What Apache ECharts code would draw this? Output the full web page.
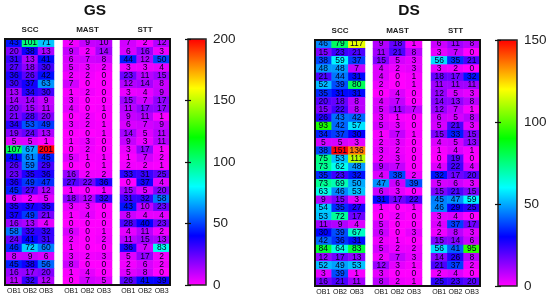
<!DOCTYPE html>
<html><head><meta charset="utf-8">
<script src="https://cdn.jsdelivr.net/npm/echarts@6/dist/echarts.min.js"></script>
<style>html,body{margin:0;background:#fff}#c{width:550px;height:300px}</style></head>
<body><div id="c"></div>
<script>
const observers = ['OB1','OB2','OB3'];
const gsScc = [[43,101,71],[20,38,13],[31,13,41],[27,18,30],[36,26,42],[30,37,63],[13,34,30],[14,14,9],[20,15,11],[21,28,20],[34,53,49],[19,24,13],[5,5,1],[107,67,201],[41,61,45],[26,59,29],[23,35,36],[36,49,47],[45,27,12],[6,2,5],[35,37,35],[37,49,21],[16,13,4],[58,32,32],[24,41,31],[46,72,60],[8,9,6],[45,38,56],[16,17,20],[11,32,12]];
const gsMast = [[2,9,10],[9,2,14],[6,7,8],[5,3,2],[2,2,0],[7,0,0],[1,2,0],[3,0,0],[4,0,1],[0,2,0],[3,2,1],[0,0,1],[1,3,0],[0,2,0],[5,1,1],[0,0,1],[16,2,2],[27,22,36],[1,0,1],[18,12,32],[3,3,0],[1,4,0],[0,0,0],[6,0,1],[2,0,2],[1,0,0],[3,2,3],[8,0,0],[1,4,0],[0,7,5]];
const gsStt = [[7,2,12],[6,16,3],[44,12,50],[3,3,4],[23,11,15],[12,14,8],[3,4,9],[15,7,17],[11,17,17],[9,11,1],[6,7,9],[14,5,11],[9,3,11],[3,17,1],[1,7,2],[2,2,1],[33,31,25],[0,37,4],[15,5,20],[31,32,58],[43,10,23],[8,4,4],[28,40,23],[4,11,2],[11,15,13],[36,7,83],[5,17,2],[2,6,2],[5,8,0],[26,41,39]];
const dsScc = [[46,79,117],[15,23,21],[38,59,37],[48,48,7],[21,44,31],[52,39,80],[35,31,31],[20,18,8],[15,22,8],[26,43,42],[93,42,57],[34,37,30],[5,5,3],[38,151,136],[75,53,111],[73,62,48],[35,23,32],[73,69,50],[63,46,53],[9,15,3],[54,35,27],[53,72,17],[11,9,4],[30,39,67],[42,36,31],[84,64,83],[12,17,13],[52,49,53],[3,39,1],[16,21,11]];
const dsMast = [[9,18,1],[11,21,8],[15,5,3],[4,2,3],[4,0,1],[2,0,1],[0,4,0],[4,7,0],[5,11,7],[3,1,0],[5,3,0],[1,7,1],[2,3,0],[3,2,0],[2,3,0],[9,7,0],[4,38,2],[47,6,39],[6,3,0],[31,17,22],[1,0,1],[0,2,0],[5,0,0],[6,0,3],[2,1,0],[5,2,2],[2,7,3],[12,3,1],[3,0,0],[8,2,1]];
const dsStt = [[6,11,8],[3,7,0],[56,35,21],[3,2,0],[18,17,32],[11,11,11],[12,5,3],[14,13,8],[12,7,1],[6,5,8],[5,21,3],[15,33,15],[4,5,13],[1,4,1],[0,19,0],[4,22,4],[32,17,20],[5,6,3],[15,21,15],[45,47,59],[46,29,25],[3,4,0],[4,37,17],[2,8,3],[15,14,6],[56,41,95],[14,26,8],[21,37,2],[2,4,0],[25,23,20]];
const rainbow = ['#ff00ff','#0000ff','#00ffff','#00ff00','#ffff00','#ff0000'];
const gsTicks = {max:200, interval:50};
const dsTicks = {max:150, interval:50};

const panels = [
  {title:'GS', tx:95, ty:3, top:39, bottom:285, frame:[5,170], ticks:gsTicks, bar:[188,206],
   blocks:[{name:'SCC',x:[6,54],rows:gsScc},{name:'MAST',x:[63,112],rows:gsMast},{name:'STT',x:[120,170],rows:gsStt}]},
  {title:'DS', tx:409, ty:3, top:40, bottom:286, frame:[315,480], ticks:dsTicks, bar:[498,517],
   blocks:[{name:'SCC',x:[315,365],rows:dsScc},{name:'MAST',x:[373,422],rows:dsMast},{name:'STT',x:[431,480],rows:dsStt}]}
];

const grid=[], xAxis=[], yAxis=[], series=[], title=[], visualMap=[];
panels.forEach(p=>{
  const seriesIdx=[];
  title.push({text:p.title,left:p.tx,top:p.ty,textAlign:'center',padding:0,
    textStyle:{fontFamily:'Liberation Sans',fontSize:15.5,fontWeight:'bold',color:'#111'}});
  p.blocks.forEach(b=>{
    const g=grid.length;
    grid.push({left:b.x[0],width:b.x[1]-b.x[0],top:p.top,height:p.bottom-p.top});
    const xi=xAxis.length, yi=yAxis.length;
    xAxis.push({type:'category',gridIndex:g,data:observers,position:'bottom',
      axisLine:{show:false},axisTick:{show:false},
      axisLabel:{interval:0,margin:3,fontSize:7,fontFamily:'Liberation Sans',color:'#111'}});
    const rowNames=b.rows.map((_,i)=>String(i+1));
    yAxis.push({type:'category',gridIndex:g,data:rowNames,inverse:true,show:false});
    const data=[];
    b.rows.forEach((r,y)=>r.forEach((v,x)=>data.push([x,y,v])));
    seriesIdx.push(series.length);
    series.push({type:'heatmap',xAxisIndex:xi,yAxisIndex:yi,data,progressive:0,animation:false,
      label:{show:true,formatter:o=>o.value[2],fontSize:8.5,fontFamily:'Liberation Sans',color:'#000020'},
      itemStyle:{borderWidth:0}});
    title.push({text:b.name,left:(b.x[0]+b.x[1])/2,top:p.top-13,textAlign:'center',padding:0,
      textStyle:{fontFamily:'Liberation Sans',fontSize:8,fontWeight:'bold',color:'#222'}});
  });
  // outer frame of the heat map
  let g=grid.length;
  grid.push({show:true,z:10,left:p.frame[0],width:p.frame[1]-p.frame[0],top:p.top,height:p.bottom-p.top,
    backgroundColor:'transparent',borderColor:'#111',borderWidth:2});
  xAxis.push({type:'value',gridIndex:g,show:false,min:0,max:1});
  yAxis.push({type:'value',gridIndex:g,show:false,min:0,max:1});
  // colour bar axis
  g=grid.length;
  grid.push({show:true,z:10,left:p.bar[0],width:p.bar[1]-p.bar[0],top:p.top,height:p.bottom-p.top,
    backgroundColor:'transparent',borderColor:'#222',borderWidth:1.5});
  xAxis.push({type:'value',gridIndex:g,show:false,min:0,max:1});
  const tickStyle={show:true,inside:true,length:3,lineStyle:{color:'#111',width:1.2}};
  yAxis.push({type:'value',gridIndex:g,z:11,min:0,max:p.ticks.max,interval:p.ticks.interval,position:'right',
    axisLine:{show:false},axisTick:tickStyle,splitLine:{show:false},
    axisLabel:{margin:7,fontSize:13.5,fontFamily:'Liberation Sans',color:'#222'}});
  yAxis.push({type:'value',gridIndex:g,z:11,min:0,max:p.ticks.max,interval:p.ticks.interval,position:'left',
    axisLine:{show:false},axisTick:tickStyle,splitLine:{show:false},axisLabel:{show:false}});
  visualMap.push({type:'continuous',seriesIndex:seriesIdx,min:0,max:p.ticks.max,
    left:p.bar[0],top:p.top,itemWidth:p.bar[1]-p.bar[0],itemHeight:p.bottom-p.top,
    padding:0,calculable:false,realtime:false,z:1,inRange:{color:rainbow},textStyle:{fontSize:0}});
});
const chart=echarts.init(document.getElementById('c'),null,{renderer:'canvas'});
chart.setOption({animation:false,backgroundColor:'#fff',title,grid,xAxis,yAxis,series,visualMap});
</script></body></html>
